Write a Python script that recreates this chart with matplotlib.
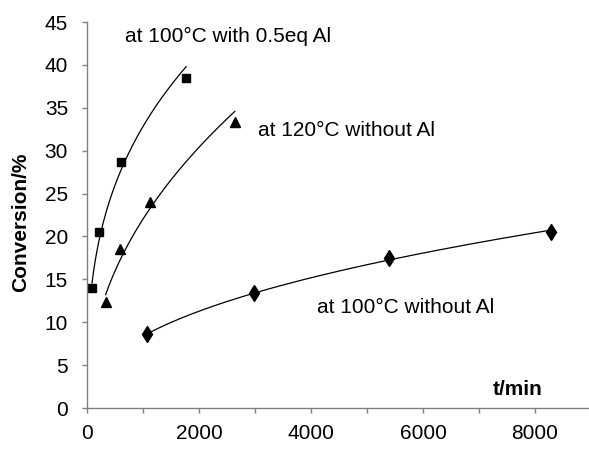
import numpy as np
import matplotlib
matplotlib.use("Agg")
import matplotlib.pyplot as plt

plt.rcParams['font.family'] = ['Liberation Sans', 'DejaVu Sans']

# data
t_al = [90, 220, 610, 1770]
c_al = [14.0, 20.5, 28.7, 38.5]
t_120 = [333, 590, 1125, 2640]
c_120 = [12.4, 18.5, 24.0, 33.3]
t_100 = [1070, 2980, 5390, 8290]
c_100 = [8.6, 13.4, 17.5, 20.5]

labels = ["at 100°C with 0.5eq Al", "at 120°C without Al", "at 100°C without Al"]
xticks = [0, 2000, 4000, 6000, 8000]
yticks = list(range(0, 50, 5))

FS = 15

fig = plt.figure(figsize=(5.89, 4.5), dpi=100)
ax = fig.add_axes([87/589, 1-408/450, 504/589, (408-22)/450])

def power_trend(t, c):
    t = np.asarray(t, float); c = np.asarray(c, float)
    b, a = np.polyfit(np.log(t), np.log(c), 1)
    xs = np.linspace(t.min(), t.max(), 200)
    return xs, np.exp(a) * xs ** b

for t, c, m, ms in [(t_al, c_al, 's', 5.5), (t_120, c_120, '^', 7.5), (t_100, c_100, 'd', 8)]:
    xs, ys = power_trend(t, c)
    ax.plot(xs, ys, color='black', lw=0.9)
    ax.plot(t, c, linestyle='none', marker=m, ms=ms, color='black')

ax.set_xlim(0, 9000)
ax.set_ylim(0, 45)
ax.set_xticks(xticks)
ax.set_xticks(range(0, 9000, 1000), minor=True)
ax.set_yticks(yticks)
ax.tick_params(axis='both', which='both', labelsize=FS, labelcolor='black', color='#808080',
               direction='out', length=3.6, width=1)
ax.tick_params(axis='x', which='major', pad=8)
ax.tick_params(axis='y', which='major', pad=10)
for s in ['top', 'right']:
    ax.spines[s].set_visible(False)
for s in ['left', 'bottom']:
    ax.spines[s].set_color('#808080')
    ax.spines[s].set_linewidth(1)

ax.text(680, 43.3, labels[0], fontsize=FS, va='center', ha='left')
ax.text(3050, 32.4, labels[1], fontsize=FS, va='center', ha='left')
ax.text(4100, 11.7, labels[2], fontsize=FS, va='center', ha='left')
ax.text(7690, 2.1, "t/min", fontsize=FS, fontweight='bold', va='center', ha='center')
fig.text(21/589, 1-222/450, "Conversion/%", fontsize=FS, fontweight='bold', rotation=90, va='center', ha='center')

fig.savefig("out.png", dpi=100)
